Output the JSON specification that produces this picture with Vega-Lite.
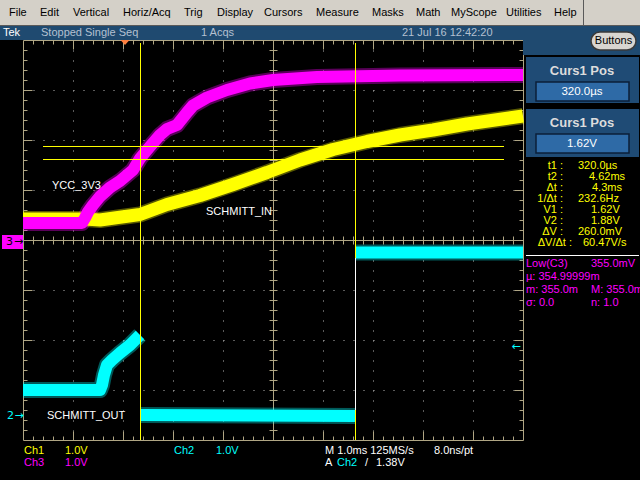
{
  "$schema": "https://vega.github.io/schema/vega-lite/v6.json",
  "width": 500,
  "height": 400,
  "autosize": {"type": "none"},
  "padding": {"left": 23, "top": 40, "right": 117, "bottom": 40},
  "background": "#000000",
  "config": {
    "view": {"stroke": "#b0a684", "strokeWidth": 1, "fill": "#000000"},
    "axis": {"labels": false, "domain": false, "grid": false, "ticks": true, "tickColor": "#b0a684", "tickWidth": 1, "tickSize": 4, "domainColor": "#b0a684", "domainWidth": 1},
    "text": {"font": "Liberation Sans", "fontSize": 11, "baseline": "middle", "align": "left"}
  },
  "resolve": {"axis": {"x": "independent", "y": "independent"}},
  "datasets": {
    "frame": [{"x": 0, "y": 0}],
    "panels": [
      {"kind": "menu", "x": -0.46, "x2": 12.34, "y": 4.8, "y2": 4.3},
      {"kind": "tekbar", "x": -0.46, "x2": 12.34, "y": 4.29, "y2": 4.0},
      {"kind": "tekbar", "x": 10.0, "x2": 12.34, "y": 4.0, "y2": 3.7},
      {"kind": "box", "x": 10.06, "x2": 12.32, "y": 3.66, "y2": 2.74},
      {"kind": "box", "x": 10.06, "x2": 12.32, "y": 2.62, "y2": 1.66},
      {"kind": "m3", "x": -0.42, "x2": 0.0, "y": 0.1, "y2": -0.18}
    ],
    "fields": [
      {"x": 10.26, "x2": 12.12, "y": 3.16, "y2": 2.78},
      {"x": 10.26, "x2": 12.12, "y": 2.12, "y2": 1.74}
    ],
    "buttons": [{"x": 11.36, "x2": 12.26, "y": 4.16, "y2": 3.8, "cx": 11.81, "cy": 3.98, "t": "Buttons"}],
    "traces": [
      {"ch": "ch1", "seg": "a", "x": 0, "y": 0.42},
      {"ch": "ch1", "seg": "a", "x": 1.24, "y": 0.42},
      {"ch": "ch1", "seg": "a", "x": 1.54, "y": 0.40},
      {"ch": "ch1", "seg": "a", "x": 1.90, "y": 0.45},
      {"ch": "ch1", "seg": "a", "x": 2.34, "y": 0.51},
      {"ch": "ch1", "seg": "a", "x": 2.88, "y": 0.71},
      {"ch": "ch1", "seg": "a", "x": 3.54, "y": 0.89},
      {"ch": "ch1", "seg": "a", "x": 4.20, "y": 1.11},
      {"ch": "ch1", "seg": "a", "x": 4.88, "y": 1.35},
      {"ch": "ch1", "seg": "a", "x": 5.54, "y": 1.60},
      {"ch": "ch1", "seg": "a", "x": 6.20, "y": 1.81},
      {"ch": "ch1", "seg": "a", "x": 6.88, "y": 1.97},
      {"ch": "ch1", "seg": "a", "x": 7.54, "y": 2.10},
      {"ch": "ch1", "seg": "a", "x": 8.20, "y": 2.20},
      {"ch": "ch1", "seg": "a", "x": 8.88, "y": 2.32},
      {"ch": "ch1", "seg": "a", "x": 10, "y": 2.48},
      {"ch": "ch3", "seg": "a", "x": 0, "y": 0.34},
      {"ch": "ch3", "seg": "a", "x": 1.18, "y": 0.34},
      {"ch": "ch3", "seg": "a", "x": 1.24, "y": 0.44},
      {"ch": "ch3", "seg": "a", "x": 1.30, "y": 0.56},
      {"ch": "ch3", "seg": "a", "x": 1.40, "y": 0.70},
      {"ch": "ch3", "seg": "a", "x": 1.54, "y": 0.87},
      {"ch": "ch3", "seg": "a", "x": 1.74, "y": 1.05},
      {"ch": "ch3", "seg": "a", "x": 1.94, "y": 1.18},
      {"ch": "ch3", "seg": "a", "x": 2.20, "y": 1.40},
      {"ch": "ch3", "seg": "a", "x": 2.34, "y": 1.63},
      {"ch": "ch3", "seg": "a", "x": 2.54, "y": 1.87},
      {"ch": "ch3", "seg": "a", "x": 2.74, "y": 2.10},
      {"ch": "ch3", "seg": "a", "x": 2.88, "y": 2.22},
      {"ch": "ch3", "seg": "a", "x": 3.08, "y": 2.30},
      {"ch": "ch3", "seg": "a", "x": 3.28, "y": 2.55},
      {"ch": "ch3", "seg": "a", "x": 3.40, "y": 2.69},
      {"ch": "ch3", "seg": "a", "x": 3.68, "y": 2.85},
      {"ch": "ch3", "seg": "a", "x": 4.08, "y": 3.00},
      {"ch": "ch3", "seg": "a", "x": 4.54, "y": 3.13},
      {"ch": "ch3", "seg": "a", "x": 5.00, "y": 3.20},
      {"ch": "ch3", "seg": "a", "x": 5.88, "y": 3.26},
      {"ch": "ch3", "seg": "a", "x": 7.54, "y": 3.29},
      {"ch": "ch3", "seg": "a", "x": 10, "y": 3.30},
      {"ch": "ch2", "seg": "a", "x": 0, "y": -3.0},
      {"ch": "ch2", "seg": "a", "x": 1.54, "y": -3.0},
      {"ch": "ch2", "seg": "a", "x": 1.58, "y": -2.9},
      {"ch": "ch2", "seg": "a", "x": 1.62, "y": -2.7},
      {"ch": "ch2", "seg": "a", "x": 1.68, "y": -2.5},
      {"ch": "ch2", "seg": "a", "x": 1.78, "y": -2.4},
      {"ch": "ch2", "seg": "a", "x": 1.94, "y": -2.26},
      {"ch": "ch2", "seg": "a", "x": 2.14, "y": -2.1},
      {"ch": "ch2", "seg": "a", "x": 2.34, "y": -1.9},
      {"ch": "ch2", "seg": "b", "x": 2.36, "y": -3.50},
      {"ch": "ch2", "seg": "b", "x": 6.64, "y": -3.52},
      {"ch": "ch2", "seg": "c", "x": 6.65, "y": -0.25},
      {"ch": "ch2", "seg": "c", "x": 10, "y": -0.25}
    ],
    "hrules": [
      {"ch": "edge", "x": -0.46, "x2": 12.34, "y": 4.29},
      {"ch": "w", "x": 10.06, "x2": 12.32, "y": -0.31},
      {"ch": "ch1", "x": 0.4, "x2": 9.62, "y": 1.87},
      {"ch": "ch1", "x": 0.4, "x2": 9.62, "y": 1.61}
    ],
    "vrules": [
      {"ch": "edge", "x": 11.21, "y": 4.8, "y2": 4.3},
      {"ch": "ch1", "x": 2.35, "y": 3.94, "y2": -4},
      {"ch": "ch1", "x": 6.65, "y": 3.94, "y2": -0.36},
      {"ch": "w", "x": 6.65, "y": -0.36, "y2": -3.4},
      {"ch": "ch1", "x": 6.65, "y": -3.4, "y2": -4}
    ],
    "trigger": [{"x": 2.04, "y": 3.95}],
    "menu": [
      {"t": "File", "x": -0.28, "y": 4.54},
      {"t": "Edit", "x": 0.34, "y": 4.54},
      {"t": "Vertical", "x": 1.0, "y": 4.54},
      {"t": "Horiz/Acq", "x": 2.0, "y": 4.54},
      {"t": "Trig", "x": 3.22, "y": 4.54},
      {"t": "Display", "x": 3.88, "y": 4.54},
      {"t": "Cursors", "x": 4.82, "y": 4.54},
      {"t": "Measure", "x": 5.86, "y": 4.54},
      {"t": "Masks", "x": 6.98, "y": 4.54},
      {"t": "Math", "x": 7.86, "y": 4.54},
      {"t": "MyScope", "x": 8.56, "y": 4.54},
      {"t": "Utilities", "x": 9.66, "y": 4.54},
      {"t": "Help", "x": 10.62, "y": 4.54}
    ],
    "status": [
      {"t": "Tek", "x": -0.4, "y": 4.14, "ch": "w"},
      {"t": "Stopped Single Seq", "x": 0.36, "y": 4.14, "ch": "tek"},
      {"t": "1 Acqs", "x": 3.56, "y": 4.14, "ch": "tek"},
      {"t": "21 Jul 16 12:42:20", "x": 7.58, "y": 4.14, "ch": "tek"},
      {"t": "Ch1", "x": 0.02, "y": -4.22, "ch": "ch1"},
      {"t": "1.0V", "x": 0.84, "y": -4.22, "ch": "ch1"},
      {"t": "Ch2", "x": 3.02, "y": -4.22, "ch": "ch2"},
      {"t": "1.0V", "x": 3.86, "y": -4.22, "ch": "ch2"},
      {"t": "M 1.0ms 125MS/s", "x": 6.04, "y": -4.22, "ch": "w"},
      {"t": "8.0ns/pt", "x": 8.22, "y": -4.22, "ch": "w"},
      {"t": "Ch3", "x": 0.02, "y": -4.46, "ch": "ch3"},
      {"t": "1.0V", "x": 0.84, "y": -4.46, "ch": "ch3"},
      {"t": "A", "x": 6.04, "y": -4.46, "ch": "w"},
      {"t": "Ch2", "x": 6.28, "y": -4.46, "ch": "ch2"},
      {"t": "/", "x": 6.84, "y": -4.46, "ch": "w"},
      {"t": "1.38V", "x": 7.06, "y": -4.46, "ch": "w"},
      {"t": "YCC_3V3", "x": 0.58, "y": 1.08, "ch": "w"},
      {"t": "SCHMITT_IN", "x": 3.66, "y": 0.56, "ch": "w"},
      {"t": "SCHMITT_OUT", "x": 0.48, "y": -3.52, "ch": "w"},
      {"t": "320.0µs", "x": 11.1, "y": 1.48, "ch": "ch1"},
      {"t": "4.62ms", "x": 11.32, "y": 1.26, "ch": "ch1"},
      {"t": "4.3ms", "x": 11.38, "y": 1.04, "ch": "ch1"},
      {"t": "232.6Hz", "x": 11.1, "y": 0.82, "ch": "ch1"},
      {"t": "1.62V", "x": 11.36, "y": 0.6, "ch": "ch1"},
      {"t": "1.88V", "x": 11.36, "y": 0.38, "ch": "ch1"},
      {"t": "260.0mV", "x": 11.1, "y": 0.16, "ch": "ch1"},
      {"t": "60.47V/s", "x": 11.2, "y": -0.06, "ch": "ch1"},
      {"t": "Low(C3)", "x": 10.06, "y": -0.48, "ch": "ch3"},
      {"t": "355.0mV", "x": 11.36, "y": -0.48, "ch": "ch3"},
      {"t": "µ: 354.99999m", "x": 10.06, "y": -0.74, "ch": "ch3"},
      {"t": "m: 355.0m", "x": 10.06, "y": -1.0, "ch": "ch3"},
      {"t": "M: 355.0m", "x": 11.36, "y": -1.0, "ch": "ch3"},
      {"t": "σ: 0.0", "x": 10.06, "y": -1.26, "ch": "ch3"},
      {"t": "n: 1.0", "x": 11.36, "y": -1.26, "ch": "ch3"}
    ],
    "readLabels": [
      {"t": "t1 :", "x": 10.8, "y": 1.48},
      {"t": "t2 :", "x": 10.8, "y": 1.26},
      {"t": "Δt :", "x": 10.8, "y": 1.04},
      {"t": "1/Δt :", "x": 10.8, "y": 0.82},
      {"t": "V1 :", "x": 10.8, "y": 0.6},
      {"t": "V2 :", "x": 10.8, "y": 0.38},
      {"t": "ΔV :", "x": 10.8, "y": 0.16},
      {"t": "ΔV/Δt :", "x": 10.98, "y": -0.06}
    ],
    "boxTitles": [
      {"t": "Curs1 Pos", "x": 11.18, "y": 3.38},
      {"t": "Curs1 Pos", "x": 11.18, "y": 2.34}
    ],
    "boxValues": [
      {"t": "320.0µs", "x": 11.18, "y": 2.97},
      {"t": "1.62V", "x": 11.18, "y": 1.93}
    ],
    "markers": [
      {"t": "3", "x": -0.27, "y": -0.04, "ch": "k"},
      {"t": "→", "x": -0.09, "y": -0.04, "ch": "k"},
      {"t": "2", "x": -0.25, "y": -3.52, "ch": "ch2"},
      {"t": "→", "x": -0.08, "y": -3.52, "ch": "ch2"},
      {"t": "←", "x": 9.86, "y": -2.14, "ch": "ch2"}
    ]
  },
  "layer": [
    {
      "data": {"name": "panels"},
      "mark": {"type": "rect"},
      "encoding": {
        "x": {"field": "x", "type": "quantitative", "scale": {"domain": [0, 10], "nice": false, "zero": false}, "axis": null},
        "x2": {"field": "x2"},
        "y": {"field": "y", "type": "quantitative", "scale": {"domain": [-4, 4], "nice": false, "zero": false}, "axis": null},
        "y2": {"field": "y2"},
        "fill": {"field": "kind", "type": "nominal", "legend": null, "scale": {"domain": ["menu", "tekbar", "box", "m3"], "range": ["#d4d0c8", "#1f4a70", "#1f4b75", "#ff00ff"]}}
      }
    },
    {
      "data": {"name": "fields"},
      "mark": {"type": "rect", "fill": "#2e6aa6", "stroke": "#0b1f38", "strokeWidth": 1.5},
      "encoding": {
        "x": {"field": "x", "type": "quantitative", "axis": null},
        "x2": {"field": "x2"},
        "y": {"field": "y", "type": "quantitative", "axis": null},
        "y2": {"field": "y2"}
      }
    },
    {
      "data": {"name": "buttons"},
      "mark": {"type": "rect", "fill": "#d8d5d0", "stroke": "#3a3a3a", "strokeWidth": 1.5, "cornerRadius": 9},
      "encoding": {
        "x": {"field": "x", "type": "quantitative", "axis": null},
        "x2": {"field": "x2"},
        "y": {"field": "y", "type": "quantitative", "axis": null},
        "y2": {"field": "y2"}
      }
    },
    {
      "data": {"name": "frame"},
      "mark": {"type": "point", "opacity": 0},
      "encoding": {
        "x": {"field": "x", "type": "quantitative", "axis": {"orient": "bottom", "title": null, "values": [1, 2, 3, 4, 6, 7, 8, 9], "grid": true, "gridDash": [1, 9], "gridColor": "#b4b4b4", "gridOpacity": 1, "ticks": false}},
        "y": {"field": "y", "type": "quantitative", "axis": {"orient": "left", "title": null, "values": [-3, -2, -1, 1, 2, 3], "grid": true, "gridDash": [1, 9], "gridColor": "#b4b4b4", "gridOpacity": 1, "ticks": false}}
      }
    },
    {
      "data": {"name": "frame"},
      "mark": {"type": "point", "opacity": 0},
      "encoding": {
        "x": {"field": "x", "type": "quantitative", "axis": {"orient": "bottom", "offset": -200, "title": null, "domain": true, "tickSize": 4, "values": [0.2, 0.4, 0.6, 0.8, 1, 1.2, 1.4, 1.6, 1.8, 2, 2.2, 2.4, 2.6, 2.8, 3, 3.2, 3.4, 3.6, 3.8, 4, 4.2, 4.4, 4.6, 4.8, 5, 5.2, 5.4, 5.6, 5.8, 6, 6.2, 6.4, 6.6, 6.8, 7, 7.2, 7.4, 7.6, 7.8, 8, 8.2, 8.4, 8.6, 8.8, 9, 9.2, 9.4, 9.6, 9.8]}},
        "y": {"field": "y", "type": "quantitative", "axis": {"orient": "left", "offset": -250, "title": null, "domain": true, "tickSize": 4, "values": [-3.8, -3.6, -3.4, -3.2, -3, -2.8, -2.6, -2.4, -2.2, -2, -1.8, -1.6, -1.4, -1.2, -1, -0.8, -0.6, -0.4, -0.2, 0, 0.2, 0.4, 0.6, 0.8, 1, 1.2, 1.4, 1.6, 1.8, 2, 2.2, 2.4, 2.6, 2.8, 3, 3.2, 3.4, 3.6, 3.8]}}
      }
    },
    {
      "data": {"name": "frame"},
      "mark": {"type": "point", "opacity": 0},
      "encoding": {
        "x": {"field": "x", "type": "quantitative", "axis": {"orient": "top", "offset": -200, "title": null, "tickSize": 4, "values": [0.2, 0.4, 0.6, 0.8, 1, 1.2, 1.4, 1.6, 1.8, 2, 2.2, 2.4, 2.6, 2.8, 3, 3.2, 3.4, 3.6, 3.8, 4, 4.2, 4.4, 4.6, 4.8, 5, 5.2, 5.4, 5.6, 5.8, 6, 6.2, 6.4, 6.6, 6.8, 7, 7.2, 7.4, 7.6, 7.8, 8, 8.2, 8.4, 8.6, 8.8, 9, 9.2, 9.4, 9.6, 9.8]}},
        "y": {"field": "y", "type": "quantitative", "axis": {"orient": "right", "offset": -250, "title": null, "tickSize": 4, "values": [-3.8, -3.6, -3.4, -3.2, -3, -2.8, -2.6, -2.4, -2.2, -2, -1.8, -1.6, -1.4, -1.2, -1, -0.8, -0.6, -0.4, -0.2, 0, 0.2, 0.4, 0.6, 0.8, 1, 1.2, 1.4, 1.6, 1.8, 2, 2.2, 2.4, 2.6, 2.8, 3, 3.2, 3.4, 3.6, 3.8]}}
      }
    },
    {
      "data": {"name": "frame"},
      "mark": {"type": "point", "opacity": 0},
      "encoding": {
        "x": {"field": "x", "type": "quantitative", "axis": {"orient": "top", "offset": -400, "title": null, "tickSize": 4, "values": [0.2, 0.4, 0.6, 0.8, 1.2, 1.4, 1.6, 1.8, 2.2, 2.4, 2.6, 2.8, 3.2, 3.4, 3.6, 3.8, 4.2, 4.4, 4.6, 4.8, 5, 5.2, 5.4, 5.6, 5.8, 6.2, 6.4, 6.6, 6.8, 7.2, 7.4, 7.6, 7.8, 8.2, 8.4, 8.6, 8.8, 9.2, 9.4, 9.6, 9.8]}},
        "y": {"field": "y", "type": "quantitative", "axis": {"orient": "right", "offset": -500, "title": null, "tickSize": 4, "values": [-3.8, -3.6, -3.4, -3.2, -2.8, -2.6, -2.4, -2.2, -1.8, -1.6, -1.4, -1.2, -0.8, -0.6, -0.4, -0.2, 0, 0.2, 0.4, 0.6, 0.8, 1.2, 1.4, 1.6, 1.8, 2.2, 2.4, 2.6, 2.8, 3.2, 3.4, 3.6, 3.8]}}
      }
    },
    {
      "data": {"name": "frame"},
      "mark": {"type": "point", "opacity": 0},
      "encoding": {
        "x": {"field": "x", "type": "quantitative", "axis": {"orient": "bottom", "offset": -400, "title": null, "tickSize": 4, "values": [0.2, 0.4, 0.6, 0.8, 1.2, 1.4, 1.6, 1.8, 2.2, 2.4, 2.6, 2.8, 3.2, 3.4, 3.6, 3.8, 4.2, 4.4, 4.6, 4.8, 5, 5.2, 5.4, 5.6, 5.8, 6.2, 6.4, 6.6, 6.8, 7.2, 7.4, 7.6, 7.8, 8.2, 8.4, 8.6, 8.8, 9.2, 9.4, 9.6, 9.8]}},
        "y": {"field": "y", "type": "quantitative", "axis": {"orient": "left", "offset": -500, "title": null, "tickSize": 4, "values": [-3.8, -3.6, -3.4, -3.2, -2.8, -2.6, -2.4, -2.2, -1.8, -1.6, -1.4, -1.2, -0.8, -0.6, -0.4, -0.2, 0, 0.2, 0.4, 0.6, 0.8, 1.2, 1.4, 1.6, 1.8, 2.2, 2.4, 2.6, 2.8, 3.2, 3.4, 3.6, 3.8]}}
      }
    },
    {
      "data": {"name": "frame"},
      "mark": {"type": "point", "opacity": 0},
      "encoding": {
        "x": {"field": "x", "type": "quantitative", "axis": {"orient": "top", "offset": -400, "title": null, "tickSize": 9, "values": [1, 2, 3, 4, 6, 7, 8, 9]}},
        "y": {"field": "y", "type": "quantitative", "axis": {"orient": "right", "offset": -500, "title": null, "tickSize": 9, "values": [-3, -2, -1, 1, 2, 3]}}
      }
    },
    {
      "data": {"name": "frame"},
      "mark": {"type": "point", "opacity": 0},
      "encoding": {
        "x": {"field": "x", "type": "quantitative", "axis": {"orient": "bottom", "offset": -400, "title": null, "tickSize": 9, "values": [1, 2, 3, 4, 6, 7, 8, 9]}},
        "y": {"field": "y", "type": "quantitative", "axis": {"orient": "left", "offset": -500, "title": null, "tickSize": 9, "values": [-3, -2, -1, 1, 2, 3]}}
      }
    },
    {
      "data": {"name": "traces"},
      "mark": {"type": "line", "strokeWidth": 16, "opacity": 0.35, "strokeJoin": "round"},
      "encoding": {
        "x": {"field": "x", "type": "quantitative", "axis": null},
        "y": {"field": "y", "type": "quantitative", "axis": null},
        "detail": {"field": "seg"},
        "color": {"field": "ch", "type": "nominal", "legend": null, "scale": {"domain": ["ch1", "ch2", "ch3", "w", "k", "edge", "tek"], "range": ["#ffff00", "#00ffff", "#ff00ff", "#ffffff", "#000000", "#5a5a5a", "#b4c0d0"]}}
      }
    },
    {
      "data": {"name": "traces"},
      "transform": [{"filter": "datum.ch == 'ch1'"}],
      "mark": {"type": "line", "strokeWidth": 13, "color": "#ffff00", "strokeJoin": "round"},
      "encoding": {
        "x": {"field": "x", "type": "quantitative", "axis": null},
        "y": {"field": "y", "type": "quantitative", "axis": null}
      }
    },
    {
      "data": {"name": "traces"},
      "transform": [{"filter": "datum.ch == 'ch3'"}],
      "mark": {"type": "line", "strokeWidth": 12, "color": "#ff00ff", "strokeJoin": "round"},
      "encoding": {
        "x": {"field": "x", "type": "quantitative", "axis": null},
        "y": {"field": "y", "type": "quantitative", "axis": null}
      }
    },
    {
      "data": {"name": "traces"},
      "transform": [{"filter": "datum.ch == 'ch2'"}],
      "mark": {"type": "line", "strokeWidth": 12, "color": "#00ffff", "strokeJoin": "round"},
      "encoding": {
        "x": {"field": "x", "type": "quantitative", "axis": null},
        "y": {"field": "y", "type": "quantitative", "axis": null},
        "detail": {"field": "seg"}
      }
    },
    {
      "data": {"name": "hrules"},
      "mark": {"type": "rule", "strokeWidth": 1},
      "encoding": {
        "x": {"field": "x", "type": "quantitative", "axis": null},
        "x2": {"field": "x2"},
        "y": {"field": "y", "type": "quantitative", "axis": null},
        "color": {"field": "ch", "type": "nominal", "legend": null, "scale": {"domain": ["ch1", "ch2", "ch3", "w", "k", "edge", "tek"], "range": ["#ffff00", "#00ffff", "#ff00ff", "#ffffff", "#000000", "#5a5a5a", "#b4c0d0"]}}
      }
    },
    {
      "data": {"name": "vrules"},
      "mark": {"type": "rule", "strokeWidth": 1},
      "encoding": {
        "x": {"field": "x", "type": "quantitative", "axis": null},
        "y": {"field": "y", "type": "quantitative", "axis": null},
        "y2": {"field": "y2"},
        "color": {"field": "ch", "type": "nominal", "legend": null, "scale": {"domain": ["ch1", "ch2", "ch3", "w", "k", "edge", "tek"], "range": ["#ffff00", "#00ffff", "#ff00ff", "#ffffff", "#000000", "#5a5a5a", "#b4c0d0"]}}
      }
    },
    {
      "data": {"name": "trigger"},
      "mark": {"type": "point", "shape": "M-1,-0.55L1,-0.55L0,0.55Z", "size": 81, "filled": true, "color": "#ff7f3f", "opacity": 1},
      "encoding": {
        "x": {"field": "x", "type": "quantitative", "axis": null},
        "y": {"field": "y", "type": "quantitative", "axis": null}
      }
    },
    {
      "data": {"name": "menu"},
      "mark": {"type": "text", "color": "#000000", "fontSize": 11},
      "encoding": {
        "x": {"field": "x", "type": "quantitative", "axis": null},
        "y": {"field": "y", "type": "quantitative", "axis": null},
        "text": {"field": "t"}
      }
    },
    {
      "data": {"name": "status"},
      "mark": {"type": "text", "fontSize": 11},
      "encoding": {
        "x": {"field": "x", "type": "quantitative", "axis": null},
        "y": {"field": "y", "type": "quantitative", "axis": null},
        "text": {"field": "t"},
        "color": {"field": "ch", "type": "nominal", "legend": null, "scale": {"domain": ["ch1", "ch2", "ch3", "w", "k", "edge", "tek"], "range": ["#ffff00", "#00ffff", "#ff00ff", "#ffffff", "#000000", "#5a5a5a", "#b4c0d0"]}}
      }
    },
    {
      "data": {"name": "readLabels"},
      "mark": {"type": "text", "align": "right", "color": "#ffff00", "fontSize": 11},
      "encoding": {
        "x": {"field": "x", "type": "quantitative", "axis": null},
        "y": {"field": "y", "type": "quantitative", "axis": null},
        "text": {"field": "t"}
      }
    },
    {
      "data": {"name": "boxTitles"},
      "mark": {"type": "text", "align": "center", "color": "#dcdcdc", "fontSize": 13, "fontWeight": "bold"},
      "encoding": {
        "x": {"field": "x", "type": "quantitative", "axis": null},
        "y": {"field": "y", "type": "quantitative", "axis": null},
        "text": {"field": "t"}
      }
    },
    {
      "data": {"name": "boxValues"},
      "mark": {"type": "text", "align": "center", "color": "#ffffff", "fontSize": 11.5},
      "encoding": {
        "x": {"field": "x", "type": "quantitative", "axis": null},
        "y": {"field": "y", "type": "quantitative", "axis": null},
        "text": {"field": "t"}
      }
    },
    {
      "data": {"name": "buttons"},
      "mark": {"type": "text", "align": "center", "color": "#000000", "fontSize": 11},
      "encoding": {
        "x": {"field": "cx", "type": "quantitative", "axis": null},
        "y": {"field": "cy", "type": "quantitative", "axis": null},
        "text": {"field": "t"}
      }
    },
    {
      "data": {"name": "markers"},
      "mark": {"type": "text", "align": "center", "font": "DejaVu Sans", "fontSize": 11},
      "encoding": {
        "x": {"field": "x", "type": "quantitative", "axis": null},
        "y": {"field": "y", "type": "quantitative", "axis": null},
        "text": {"field": "t"},
        "color": {"field": "ch", "type": "nominal", "legend": null, "scale": {"domain": ["ch1", "ch2", "ch3", "w", "k", "edge", "tek"], "range": ["#ffff00", "#00ffff", "#ff00ff", "#ffffff", "#000000", "#5a5a5a", "#b4c0d0"]}}
      }
    }
  ]
}
